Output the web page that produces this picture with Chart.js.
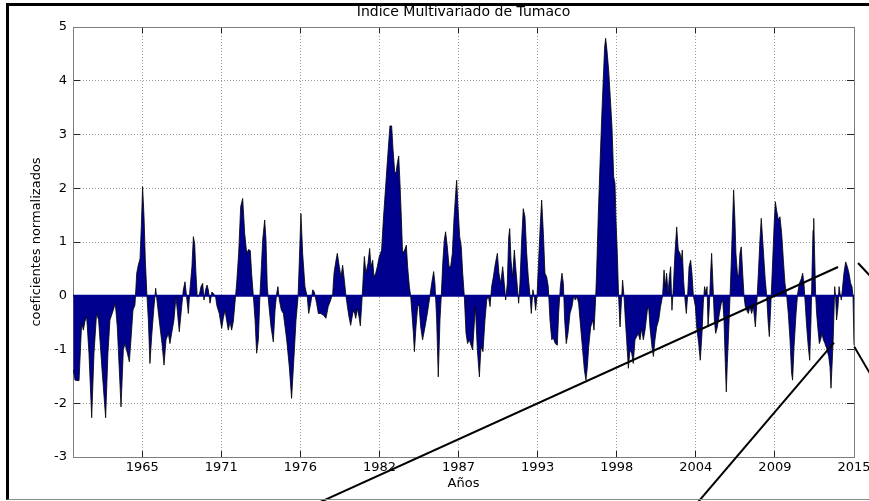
<!DOCTYPE html>
<html lang="es">
<head>
<meta charset="utf-8">
<title>Indice Multivariado de Tumaco</title>
<script src="https://cdn.jsdelivr.net/npm/chart.js@4.4.0/dist/chart.umd.min.js"></script>
<style>
  html, body { margin: 0; padding: 0; background: #fff; }
  #wrap { position: relative; width: 869px; height: 501px; overflow: hidden; }
  #box { position: absolute; left: 0; top: 0; width: 869px; height: 501px; }
  #frame {
    position: absolute; left: 6px; top: 3px; width: 860px; height: 493px;
    border-top: 3px solid #000; border-left: 3px solid #000; border-bottom: 1px solid #8a8a8a;
    pointer-events: none;
  }
</style>
</head>
<body>
<div id="wrap">
  <div id="box"><canvas id="chart"></canvas></div>
  <div id="frame"></div>
</div>
<script>
// Time span of the series (decimal years)
const X_START = 1960.69;
const X_END = 2015.0;

// Vertices of the index outline: decimal year and normalized coefficient
const years = [
  1960.71,1960.83,1961.11,1961.29,1961.41,1961.52,1961.64,1961.80,1961.99,1962.15,
  1962.33,1962.47,1962.71,1962.96,1963.12,1963.26,1963.49,1963.63,1963.77,1964.03,
  1964.19,1964.30,1964.47,1964.61,1964.72,1964.86,1965.00,1965.12,1965.23,1965.35,
  1965.44,1965.53,1965.63,1965.72,1965.83,1965.93,1966.04,1966.16,1966.30,1966.44,
  1966.55,1966.74,1966.88,1967.02,1967.16,1967.32,1967.43,1967.55,1967.71,1967.85,
  1967.94,1968.08,1968.25,1968.36,1968.48,1968.59,1968.71,1968.82,1968.96,1969.06,
  1969.15,1969.24,1969.33,1969.47,1969.59,1969.71,1969.80,1969.91,1970.01,1970.10,
  1970.22,1970.35,1970.49,1970.61,1970.70,1970.86,1971.03,1971.14,1971.26,1971.37,
  1971.49,1971.61,1971.72,1971.84,1971.95,1972.07,1972.21,1972.35,1972.49,1972.63,
  1972.77,1972.90,1973.02,1973.11,1973.23,1973.35,1973.46,1973.58,1973.69,1973.79,
  1973.88,1974.02,1974.11,1974.20,1974.32,1974.46,1974.62,1974.74,1974.85,1974.94,
  1975.04,1975.18,1975.32,1975.55,1975.73,1975.89,1976.06,1976.20,1976.34,1976.43,
  1976.54,1976.66,1976.82,1976.98,1977.08,1977.22,1977.36,1977.47,1977.63,1977.75,
  1977.91,1978.10,1978.28,1978.44,1978.61,1978.75,
  1978.84,1978.98,1979.07,1979.21,1979.33,1979.44,1979.56,1979.67,1979.77,1979.88,
  1980.00,1980.14,1980.23,1980.35,1980.46,1980.58,1980.67,1980.76,1980.86,1980.95,
  1981.06,1981.20,1981.32,1981.41,1981.53,1981.62,1981.74,1981.85,1981.99,1982.15,
  1982.27,1982.43,1982.59,1982.73,1982.85,1982.94,1983.06,1983.15,1983.24,1983.34,
  1983.43,1983.52,1983.61,1983.75,1983.87,1983.96,1984.08,1984.17,1984.26,1984.36,
  1984.43,1984.54,1984.66,1984.75,1984.87,1985.00,1985.17,1985.33,1985.47,1985.63,
  1985.77,1985.86,1985.98,1986.09,1986.21,1986.30,1986.40,1986.51,1986.60,1986.72,
  1986.84,1986.95,1987.07,1987.18,1987.30,1987.37,1987.46,1987.58,1987.69,1987.79,
  1987.90,1988.02,1988.13,1988.25,1988.37,1988.48,1988.58,1988.67,1988.81,1988.95,
  1989.06,1989.20,1989.34,1989.46,1989.57,1989.69,1989.80,1989.92,1990.06,1990.20,
  1990.31,1990.43,1990.57,1990.66,1990.78,1990.89,1990.99,1991.06,1991.15,1991.26,
  1991.38,1991.47,1991.59,1991.68,1991.77,1991.89,1992.00,1992.12,1992.24,1992.35,
  1992.47,1992.56,1992.67,1992.77,1992.86,1992.96,1993.07,1993.19,1993.28,1993.40,
  1993.51,1993.63,1993.74,1993.86,1993.98,1994.09,1994.23,1994.37,1994.46,1994.58,
  1994.69,1994.79,1994.88,1994.99,1995.11,1995.25,1995.39,1995.51,1995.62,1995.74,
  1995.85,1995.99,1996.13,1996.25,1996.36,1996.46,1996.55,1996.69,1996.83,
  1996.92,1997.01,1997.10,1997.22,1997.34,1997.45,1997.57,1997.66,1997.73,1997.82,
  1997.94,1998.05,1998.17,1998.29,1998.38,1998.45,1998.54,1998.63,1998.73,1998.82,
  1998.91,1999.01,1999.10,1999.19,1999.31,1999.42,1999.54,1999.65,1999.77,1999.89,
  2000.00,2000.12,2000.23,2000.35,2000.47,2000.63,2000.72,2000.81,2000.95,2001.05,
  2001.16,2001.28,2001.42,2001.55,2001.69,2001.79,2001.88,2001.97,2002.07,2002.16,
  2002.25,2002.34,2002.44,2002.55,2002.67,2002.78,2002.90,2002.99,2003.06,2003.15,
  2003.25,2003.34,2003.43,2003.53,2003.64,2003.73,2003.83,2003.97,2004.06,2004.20,
  2004.31,2004.43,2004.52,2004.61,2004.71,2004.78,2004.85,2004.94,2005.03,2005.10,
  2005.19,2005.29,2005.38,2005.50,2005.64,2005.77,2005.87,2005.96,2006.05,2006.12,
  2006.19,2006.28,2006.38,2006.47,2006.56,2006.63,2006.72,2006.79,2006.89,2006.98,
  2007.07,2007.16,2007.26,2007.35,2007.44,2007.54,2007.65,2007.77,2007.88,2008.00,
  2008.14,2008.23,2008.35,2008.46,2008.55,2008.65,2008.74,2008.83,2008.93,2009.02,
  2009.11,2009.20,2009.32,2009.44,2009.53,2009.62,2009.74,2009.85,2009.97,2010.09,
  2010.20,2010.32,2010.43,2010.55,2010.66,2010.73,2010.83,2010.97,2011.08,2011.20,
  2011.34,2011.43,2011.52,2011.62,2011.71,2011.82,2011.92,2012.01,2012.08,2012.15,
  2012.20,2012.26,2012.33,2012.40,2012.50,2012.59,2012.68,2012.77,2012.87,2012.98,
  2013.10,2013.24,2013.33,2013.40,2013.49,2013.56,2013.66,2013.72,2013.79,2013.89,
  2013.96,2014.03,2014.12,2014.21,2014.30,2014.42,2014.54,2014.65,2014.77,2014.86,
  2014.93,2015.00
];

const index = [
  -1.38,-1.57,-1.58,-0.51,-0.64,-0.48,-0.39,-1.07,-2.27,-1.07,
  -0.33,-0.45,-1.38,-2.27,-1.07,-0.45,-0.27,-0.14,-0.58,-2.07,
  -1.01,-0.89,-1.07,-1.23,-0.82,-0.27,-0.17,0.42,0.57,0.69,
  1.28,2.03,1.47,0.66,0.02,-0.45,-1.26,-0.76,-0.27,0.14,
  -0.14,-0.58,-0.89,-1.29,-0.82,-0.70,-0.89,-0.70,-0.45,-0.02,
  -0.27,-0.67,-0.20,0.11,0.26,-0.02,-0.33,0.11,0.54,1.10,
  0.97,0.42,-0.02,0.01,0.17,0.23,-0.08,0.11,0.20,0.11,
  -0.14,0.07,0.03,-0.03,-0.19,-0.33,-0.61,-0.42,-0.27,-0.45,
  -0.64,-0.48,-0.64,-0.48,-0.14,0.23,0.79,1.66,1.81,1.16,
  0.79,0.86,0.84,0.42,0.0,-0.45,-1.07,-0.82,0.0,0.54,
  1.04,1.41,1.04,0.17,-0.20,-0.58,-0.86,-0.27,0.04,0.17,
  -0.08,-0.27,-0.33,-0.82,-1.32,-1.91,-1.13,-0.45,-0.02,0.66,
  1.53,0.79,0.17,-0.02,-0.33,-0.14,0.11,0.07,-0.14,-0.33,
  -0.33,-0.36,-0.42,-0.20,-0.08,0.04,
  0.42,0.66,0.79,0.54,0.35,0.57,0.29,0.0,-0.20,-0.39,
  -0.55,-0.33,-0.27,-0.42,-0.24,-0.39,-0.56,-0.20,0.29,0.73,
  0.42,0.60,0.88,0.54,0.66,0.35,0.42,0.54,0.73,0.85,
  1.41,2.03,2.65,3.16,3.16,2.74,2.31,2.28,2.46,2.60,
  2.09,1.47,0.79,0.85,0.94,0.54,0.17,0.0,-0.33,-0.70,
  -1.04,-0.58,-0.20,-0.17,-0.58,-0.82,-0.58,-0.33,-0.08,0.23,
  0.45,0.23,-0.45,-1.51,-0.45,0.0,0.60,1.04,1.19,0.91,
  0.54,0.54,0.79,1.41,1.90,2.15,1.66,1.10,0.91,0.42,
  0.0,-0.70,-0.89,-0.82,-0.92,-1.01,-0.58,-0.20,-1.01,-1.51,
  -0.95,-1.04,-0.45,-0.08,0.0,-0.20,0.17,0.35,0.60,0.79,
  0.42,0.23,0.54,0.29,-0.08,0.23,1.10,1.25,0.66,0.35,
  0.85,0.54,0.17,-0.14,0.23,1.04,1.62,1.47,0.79,0.35,
  0.0,-0.33,0.11,-0.02,-0.27,0.0,0.66,1.35,1.78,1.16,
  0.42,0.35,0.17,-0.45,-0.82,-0.79,-0.89,-0.92,-0.33,0.17,
  0.42,0.23,-0.45,-0.89,-0.70,-0.33,-0.20,0.0,-0.08,-0.02,
  -0.14,-0.58,-1.01,-1.38,-1.57,-1.32,-0.95,-0.58,-0.45,
  -0.64,-0.20,0.42,1.53,2.46,3.27,4.07,4.63,4.79,4.57,
  4.20,3.70,3.14,2.21,2.09,1.41,0.79,0.0,-0.58,-0.14,
  0.29,-0.02,-0.45,-0.82,-1.35,-1.01,-1.07,-1.26,-0.82,-0.76,
  -0.70,-0.82,-0.61,-0.82,-0.64,-0.27,-0.20,-0.58,-0.95,-1.13,
  -0.82,-0.58,-0.45,-0.20,0.0,0.48,0.17,0.42,0.04,0.35,
  0.54,-0.27,0.17,0.79,1.28,0.85,0.79,0.66,0.85,0.29,
  -0.08,-0.33,0.0,0.54,0.66,0.42,0.0,-0.20,-0.58,-0.89,
  -1.20,-0.70,-0.14,0.17,0.04,0.17,-0.58,-0.20,0.42,0.79,
  0.23,-0.45,-0.70,-0.58,-0.33,-0.14,-0.08,-0.45,-1.26,-1.79,
  -1.26,-0.70,0.0,0.66,1.41,1.97,1.41,0.79,0.42,0.35,
  0.79,0.91,0.42,0.0,-0.20,-0.27,-0.33,-0.20,-0.33,-0.20,
  -0.58,-0.20,0.42,1.04,1.44,1.04,0.66,0.29,0.0,-0.45,
  -0.76,-0.27,0.48,1.28,1.75,1.59,1.41,1.47,1.16,0.66,
  0.23,0.0,-0.33,-0.82,-1.44,-1.57,-0.95,-0.33,0.04,0.23,
  0.32,0.42,0.23,-0.20,-0.58,-0.95,-1.20,-0.45,0.42,1.22,
  1.44,0.79,0.04,-0.33,-0.64,-0.89,-0.82,-0.70,-0.82,-0.89,
  -0.98,-1.13,-1.32,-1.72,-1.20,-0.76,0.17,-0.02,-0.45,-0.20,
  0.17,0.04,-0.08,0.17,0.42,0.63,0.54,0.42,0.23,0.17,
  0.0,-0.92
];

// Year axis: one tick every 66 months, labelled with the year
const tickPositions = [1965.5, 1971.0, 1976.5, 1982.0, 1987.5, 1993.0, 1998.5, 2004.0, 2009.5, 2015.0];
const tickLabels = ['1965', '1971', '1976', '1982', '1987', '1993', '1998', '2004', '2009', '2015'];
const yTicks = [-3, -2, -1, 0, 1, 2, 3, 4, 5];

// Straight guide strokes crossing the figure (year, value pairs)
const guideLines = [
  [[1977.45, -3.89], [2013.89, 0.535]],
  [[2003.99, -3.89], [2013.61, -0.873]],
  [[2015.28, 0.61], [2016.25, 0.33]],
  [[2015.02, -0.95], [2016.25, -1.51]]
];

const FONT = 'DejaVu Sans';
const AREA = '#00008f';
const AXIS = '#7d7d7d';
const GRID = '#9c9c9c';
const TICK = '#222';

const fixYears = s => { s.min = X_START; s.max = X_END; };
const yearTicks = s => { s.ticks = tickPositions.map(v => ({ value: v })); };
const valueTicks = s => { s.ticks = yTicks.map(v => ({ value: v })); };
// Fixed axis band sizes, no extra room reserved for overhanging labels
const band = (w, h) => s => {
  if (w !== null) s.width = w;
  if (h !== null) s.height = h;
  s.paddingLeft = 0; s.paddingRight = 0; s.paddingTop = 0; s.paddingBottom = 0;
};

const datasets = [
  {
    label: 'Indice',
    data: years.map((x, i) => ({ x, y: index[i] })),
    borderColor: '#000',
    borderWidth: 0.8,
    backgroundColor: AREA,
    fill: 'origin',
    pointRadius: 0,
    tension: 0,
    order: 3
  },
  {
    label: 'base',
    data: [{ x: X_START, y: 0 }, { x: X_END, y: 0 }],
    borderColor: AREA,
    borderWidth: 2,
    fill: false,
    pointRadius: 0,
    order: 2
  }
].concat(guideLines.map((seg, k) => ({
  label: 'guia' + k,
  data: seg.map(p => ({ x: p[0], y: p[1] })),
  borderColor: '#000',
  borderWidth: 2,
  fill: false,
  pointRadius: 0,
  clip: false,
  order: 1
})));

new Chart(document.getElementById('chart'), {
  type: 'line',
  data: { datasets },
  options: {
    responsive: true,
    maintainAspectRatio: false,
    animation: false,
    events: [],
    layout: { padding: { left: 0, right: 15, top: 0, bottom: 0 } },
    plugins: {
      legend: { display: false },
      tooltip: { enabled: false },
      title: {
        display: true,
        text: 'Indice Multivariado de Tumaco',
        fullSize: false,
        color: '#000',
        font: { family: FONT, size: 14, weight: 'normal' },
        padding: { top: 4.4, bottom: 5.8 }
      }
    },
    scales: {
      x: {
        type: 'linear',
        position: 'bottom',
        bounds: 'data',
        afterDataLimits: fixYears,
        afterBuildTicks: yearTicks,
        afterFit: band(null, 44),
        grid: { color: GRID, lineWidth: 1, drawTicks: true, tickLength: -6, tickColor: TICK, tickWidth: 1 },
        border: { display: true, color: AXIS, width: 1, dash: [1, 2] },
        ticks: {
          padding: 9, color: '#000', maxRotation: 0, autoSkip: false,
          font: { family: FONT, size: 13 },
          callback: (v, i) => tickLabels[i]
        },
        title: {
          display: true, text: 'Años', color: '#000',
          font: { family: FONT, size: 13 },
          padding: { top: 0, bottom: 9.7 }
        }
      },
      x2: {
        type: 'linear',
        position: 'top',
        bounds: 'data',
        afterDataLimits: fixYears,
        afterBuildTicks: yearTicks,
        afterFit: band(null, 0),
        grid: { drawOnChartArea: false, drawTicks: true, tickLength: -6, tickColor: TICK, tickWidth: 1 },
        border: { display: true, color: AXIS, width: 1 },
        ticks: { display: false }
      },
      y: {
        type: 'linear',
        position: 'left',
        min: -3,
        max: 5,
        afterBuildTicks: valueTicks,
        afterFit: band(73, null),
        grid: { color: GRID, lineWidth: 1, drawTicks: true, tickLength: -7, tickColor: TICK, tickWidth: 1 },
        border: { display: true, color: AXIS, width: 1, dash: [1, 2] },
        ticks: {
          padding: 13, color: '#000',
          font: { family: FONT, size: 13 },
          callback: v => String(v)
        },
        title: {
          display: true, text: 'coeficientes normalizados', color: '#000',
          font: { family: FONT, size: 13 },
          padding: { top: 29.2, bottom: 0 }
        }
      },
      y2: {
        type: 'linear',
        position: 'right',
        min: -3,
        max: 5,
        afterBuildTicks: valueTicks,
        afterFit: band(0, null),
        grid: { drawOnChartArea: false, drawTicks: true, tickLength: -7, tickColor: TICK, tickWidth: 1 },
        border: { display: true, color: AXIS, width: 1 },
        ticks: { display: false }
      }
    }
  }
});
</script>
</body>
</html>
